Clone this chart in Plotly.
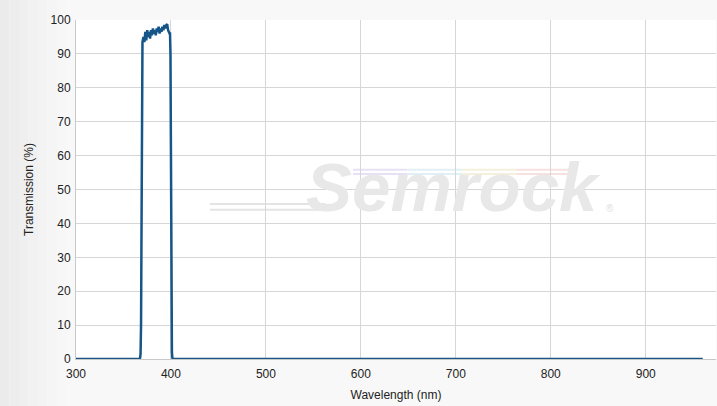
import plotly.graph_objects as go

# Data
wavelength = [300, 360, 365, 366, 367, 367.5, 368, 368.5, 369, 369.5, 370, 371, 372, 373, 374, 375,
              376, 377, 378, 379, 380, 381, 382, 383, 384, 385, 386, 387, 388, 389, 390,
              391, 392, 393, 394, 395, 396, 397, 397.5, 398, 398.5, 399, 399.5, 400, 400.5,
              401, 401.5, 402, 403, 410, 960]
transmission = [0, 0, 0, 0, 0, 0.3, 1.5, 10, 55, 88, 93.5, 95, 93.5, 96.5, 94, 97,
                95, 96.5, 94.5, 97, 95.5, 97.5, 96, 97, 95.5, 97.5, 96.5, 98, 96, 97.5, 96.5,
                98, 97, 98.5, 97.5, 98.5, 98.8, 97, 96.5, 96.3, 96, 96, 90, 60, 15,
                2, 0.3, 0, 0, 0, 0]

x_ticks = [300, 400, 500, 600, 700, 800, 900]
y_ticks = [0, 10, 20, 30, 40, 50, 60, 70, 80, 90, 100]

fig = go.Figure()
fig.add_trace(go.Scatter(
    x=wavelength, y=transmission, mode="lines",
    line=dict(color="#155589", width=2.5),
    hoverinfo="skip", showlegend=False,
))

shapes = []
# subtle gradient on the left of the page
grads = ["#ebebeb", "#ededed", "#efefef", "#f1f1f1", "#f3f3f3", "#f5f5f5", "#f7f7f7", "#f8f8f8"]
n = len(grads)
x0p = -76 / 640
for i, c in enumerate(grads):
    a = x0p + (0 - x0p) * i / n
    b = x0p + (0 - x0p) * (i + 1) / n
    shapes.append(dict(type="rect", xref="paper", yref="paper", x0=a, x1=b, y0=-47 / 339, y1=1 + 20 / 339,
                       fillcolor=c, line=dict(width=0), layer="below"))

# watermark swoosh lines
for yy in [0.457, 0.440]:
    shapes.append(dict(type="line", xref="paper", yref="paper", x0=0.209, x1=0.39, y0=yy, y1=yy,
                       line=dict(color="#e4e4e4", width=2), layer="below"))
rainbow = ["#e8e0f4", "#e0f0f4", "#f4f0dc", "#f6e0e0"]
for i, c in enumerate(rainbow):
    for yy in [0.558, 0.546]:
        shapes.append(dict(type="line", xref="paper", yref="paper",
                           x0=0.433 + 0.085 * i, x1=0.433 + 0.085 * (i + 1),
                           y0=yy, y1=yy, line=dict(color=c, width=2), layer="below"))

fig.update_layout(
    width=717, height=406,
    margin=dict(l=76, r=1, t=20, b=47),
    paper_bgcolor="#f8f8f8",
    plot_bgcolor="#ffffff",
    font=dict(family="Liberation Sans, Arial, sans-serif", size=12, color="#222222"),
    shapes=shapes,
    xaxis=dict(
        range=[300, 974], tickvals=x_ticks, showgrid=True, gridcolor="#d6d6d6", gridwidth=1,
        zeroline=False, showline=True, linecolor="#c8c8c8", linewidth=1, automargin=False,
        ticks="", ticklabelstandoff=4, tickfont=dict(size=12, color="#222222"),
        title=dict(text="Wavelength (nm)", font=dict(size=12, color="#222222"), standoff=10),
    ),
    yaxis=dict(
        range=[0, 100], tickvals=y_ticks, showgrid=True, gridcolor="#d6d6d6", gridwidth=1,
        zeroline=False, showline=True, linecolor="#c8c8c8", linewidth=1, automargin=False,
        ticks="", ticklabelstandoff=2, tickfont=dict(size=12, color="#222222"),
        title=dict(text="Transmission (%)", font=dict(size=12, color="#222222"), standoff=14),
    ),
    annotations=[
        dict(text="<b><i>Semrock</i></b>", xref="paper", yref="paper", x=0.59, y=0.505,
             showarrow=False, font=dict(family="Liberation Sans, Arial, sans-serif", size=69, color="#e8e8e8"),
             xanchor="center", yanchor="middle"),
        dict(text="®", xref="paper", yref="paper", x=0.835, y=0.445, showarrow=False,
             font=dict(size=10, color="#e0e0e0"), xanchor="center", yanchor="middle"),
    ],
)

fig.write_html("out.html", config={"displayModeBar": False},
               post_script="document.body.style.margin='0';document.body.style.padding='0';")
